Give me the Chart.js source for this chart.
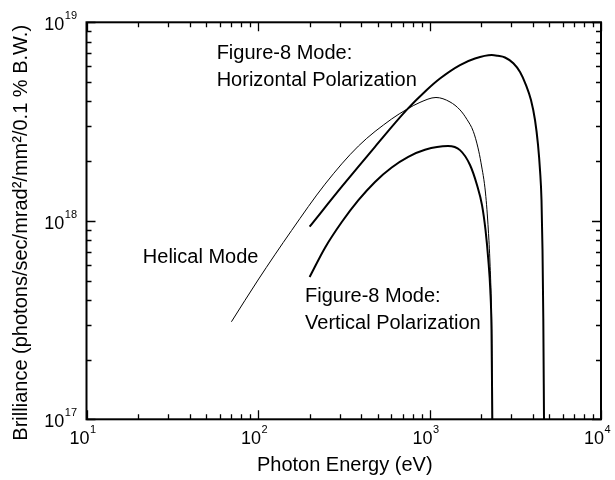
<!DOCTYPE html>
<html><head><meta charset="utf-8">
<script src="https://cdn.jsdelivr.net/npm/chart.js@4/dist/chart.umd.min.js"></script>
<style>html,body{margin:0;padding:0;background:#fff;} #wrap{width:615px;height:480px;position:relative;}</style>
</head><body><div id="wrap"><canvas id="c" width="615" height="480"></canvas></div>
<script>
// ---- data ----
const helicalEnergy     = [70, 100, 157, 246, 385, 602, 736, 880, 1091, 1317, 1506, 1654, 1801, 1918, 1997, 2121, 2203, 2253, 2290, 2314, 2324];
const helicalBrilliance = [3.10e17, 5.03e17, 8.94e17, 1.53e18, 2.38e18, 3.26e18, 3.64e18, 3.95e18, 4.18e18, 3.97e18, 3.62e18, 3.24e18, 2.82e18, 2.33e18, 1.96e18, 1.38e18, 8.99e17, 6.13e17, 3.99e17, 2.23e17, 1.0e17];

const horizEnergy     = [200, 308, 481, 736, 963, 1151, 1506, 1842, 2305, 2500, 2755, 3082, 3372, 3653, 3906, 4123, 4293, 4409, 4499, 4560, 4609, 4652];
const horizBrilliance = [9.34e17, 1.485e18, 2.36e18, 3.62e18, 4.56e18, 5.21e18, 6.09e18, 6.57e18, 6.84e18, 6.78e18, 6.65e18, 6.22e18, 5.62e18, 4.83e18, 4.06e18, 3.22e18, 2.41e18, 1.80e18, 1.27e18, 7.1e17, 3.2e17, 1.0e17];

const vertEnergy     = [200, 246, 308, 385, 481, 602, 752, 941, 1282, 1506, 1723, 1892, 2024, 2121, 2203, 2262, 2299, 2324];
const vertBrilliance = [5.21e17, 7.32e17, 9.86e17, 1.27e18, 1.57e18, 1.856e18, 2.10e18, 2.28e18, 2.38e18, 2.27e18, 1.91e18, 1.515e18, 1.20e18, 8.99e17, 6.35e17, 4.48e17, 2.82e17, 1.0e17];

const xDecades   = [10, 100, 1000, 10000];
const xExponents = ['1', '2', '3', '4'];
const yDecades   = [1e17, 1e18, 1e19];
const yExponents = ['17', '18', '19'];
const tickBase   = '10';

const xTitle = 'Photon Energy (eV)';
const yTitle = 'Brilliance (photons/sec/mrad²/mm²/0.1 % B.W.)';

const annotationTexts = [
  ['Figure-8 Mode:', 'Horizontal Polarization'],
  ['Helical Mode'],
  ['Figure-8 Mode:', 'Vertical Polarization']
];
// anchors in data coordinates (energy, brilliance) of the first baseline
const annotationAnchors = [
  [57.4, 6.51e18],
  [21.3, 6.11e17],
  [188, 3.9e17]
];

// ---- chart ----
const FONT = "'Liberation Sans', Arial, Helvetica, sans-serif";
function pts(xs, ys){ return xs.map((x,i)=>({x:x, y:ys[i]})); }

const framePlugin = {
  id: 'framePlugin',
  afterDatasetsDraw(chart){
    const {ctx, chartArea:a, scales:{x, y}} = chart;
    ctx.save();
    ctx.strokeStyle = '#000';
    ctx.fillStyle = '#000';
    // tick marks (inward, all four sides)
    ctx.lineWidth = 1.3;
    const MAJ = 9, MIN = 5;
    ctx.beginPath();
    for (let d = 10; d <= 10000; d *= 10){
      for (let m = 1; m <= 9; m++){
        const v = d*m; if (v > 10000) break;
        const px = Math.round(x.getPixelForValue(v)) + 0.5;
        const L = m === 1 ? MAJ : MIN;
        ctx.moveTo(px, a.bottom); ctx.lineTo(px, a.bottom - L);
        ctx.moveTo(px, a.top);    ctx.lineTo(px, a.top + L);
      }
    }
    for (let d = 1e17; d <= 1e19*1.01; d *= 10){
      for (let m = 1; m <= 9; m++){
        const v = d*m; if (v > 1.01e19) break;
        const py = Math.round(y.getPixelForValue(v)) + 0.5;
        const L = m === 1 ? MAJ : MIN;
        ctx.moveTo(a.left, py);  ctx.lineTo(a.left + L, py);
        ctx.moveTo(a.right, py); ctx.lineTo(a.right - L, py);
      }
    }
    ctx.stroke();
    // frame
    ctx.lineWidth = 2;
    ctx.strokeRect(a.left, a.top, a.right - a.left, a.bottom - a.top);

    // x tick labels
    ctx.textBaseline = 'alphabetic';
    ctx.textAlign = 'left';
    xDecades.forEach((v, i) => {
      const px = x.getPixelForValue(v);
      ctx.font = '18px ' + FONT;
      const w = ctx.measureText(tickBase).width;
      const x0 = px - 17;
      ctx.fillText(tickBase, x0, a.bottom + 25);
      ctx.font = '11px ' + FONT;
      ctx.fillText(xExponents[i], x0 + w + 0.5, a.bottom + 13.5);
    });
    // y tick labels (right aligned at a.left - 9)
    yDecades.forEach((v, i) => {
      const py = y.getPixelForValue(v);
      ctx.font = '11px ' + FONT;
      const we = ctx.measureText(yExponents[i]).width;
      ctx.font = '18px ' + FONT;
      const wb = ctx.measureText(tickBase).width;
      const right = a.left - 9.5;
      const x0 = right - we - wb - 0.5;
      ctx.fillText(tickBase, x0, py + 8);
      ctx.font = '11px ' + FONT;
      ctx.fillText(yExponents[i], x0 + wb + 0.5, py - 3);
    });

    // axis titles
    ctx.font = '20px ' + FONT;
    ctx.textAlign = 'center';
    ctx.fillText(xTitle, (a.left + a.right)/2 + 1, a.bottom + 52);
    ctx.save();
    ctx.translate(26.5, (a.top + a.bottom)/2 + 12);
    ctx.rotate(-Math.PI/2);
    ctx.fillText(yTitle, 0, 0);
    ctx.restore();

    // annotations
    ctx.textAlign = 'left';
    ctx.font = '20px ' + FONT;
    annotationTexts.forEach((lines, i) => {
      const ax = x.getPixelForValue(annotationAnchors[i][0]);
      const ay = y.getPixelForValue(annotationAnchors[i][1]);
      lines.forEach((t, k) => ctx.fillText(t, ax, ay + k*27));
    });
    ctx.restore();
  }
};

new Chart(document.getElementById('c'), {
  type: 'line',
  data: {
    datasets: [
      { label: 'Helical Mode', data: pts(helicalEnergy, helicalBrilliance), borderColor: '#000', borderWidth: 1, pointRadius: 0, fill: false, cubicInterpolationMode: 'monotone' },
      { label: 'Figure-8 Mode: Horizontal Polarization', data: pts(horizEnergy, horizBrilliance), borderColor: '#000', borderWidth: 2, pointRadius: 0, fill: false, cubicInterpolationMode: 'monotone' },
      { label: 'Figure-8 Mode: Vertical Polarization', data: pts(vertEnergy, vertBrilliance), borderColor: '#000', borderWidth: 2, pointRadius: 0, fill: false, cubicInterpolationMode: 'monotone' }
    ]
  },
  options: {
    responsive: false,
    animation: false,
    devicePixelRatio: 1,
    layout: { padding: { left: 86.5, right: 14, top: 22.3, bottom: 60.7 } },
    plugins: { legend: { display: false }, tooltip: { enabled: false }, title: { display: false } },
    scales: {
      x: { type: 'logarithmic', min: 10, max: 10000, display: false },
      y: { type: 'logarithmic', min: 1e17, max: 1e19, display: false }
    }
  },
  plugins: [framePlugin]
});
</script>
</body></html>
